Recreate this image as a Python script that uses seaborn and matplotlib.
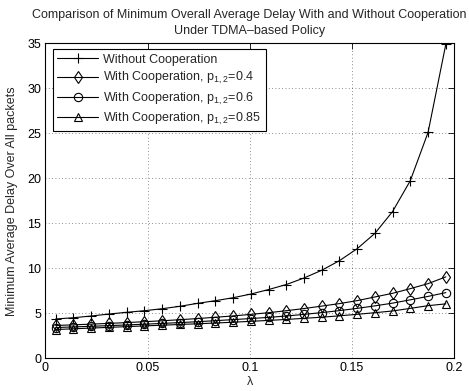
import numpy as np
import pandas as pd
import matplotlib
matplotlib.use("Agg")
import matplotlib.pyplot as plt
import seaborn as sns

# ── Data ─────────────────────────────────────────────────────
lam = [0.005, 0.0137, 0.0224, 0.031, 0.0397, 0.0484, 0.0571, 0.0658, 0.0745,
       0.0831, 0.0918, 0.1005, 0.1092, 0.1179, 0.1265, 0.1352, 0.1439, 0.1526,
       0.1613, 0.1699, 0.1786, 0.1873, 0.196]

without_coop = [4.37, 4.51, 4.70, 4.92, 5.11, 5.29, 5.51, 5.78, 6.11, 6.40, 6.73,
                7.14, 7.64, 8.20, 8.92, 9.78, 10.85, 12.18, 13.89, 16.3, 19.74,
                25.1, 34.9]
coop_p04 = [3.65, 3.72, 3.80, 3.88, 3.97, 4.07, 4.17, 4.29, 4.42, 4.56, 4.71,
            4.88, 5.07, 5.29, 5.53, 5.80, 6.08, 6.41, 6.82, 7.22, 7.74, 8.30, 9.05]
coop_p06 = [3.42, 3.49, 3.56, 3.63, 3.71, 3.79, 3.88, 3.97, 4.07, 4.18, 4.30,
            4.42, 4.55, 4.70, 4.88, 5.08, 5.30, 5.55, 5.83, 6.13, 6.50, 6.88, 7.30]
coop_p085 = [3.20, 3.28, 3.36, 3.44, 3.52, 3.60, 3.68, 3.76, 3.84, 3.92, 4.01,
             4.11, 4.21, 4.32, 4.44, 4.57, 4.72, 4.89, 5.07, 5.26, 5.55, 5.85, 6.05]

series_labels = ["Without Cooperation",
                 r"With Cooperation, p$_{1,2}$=0.4",
                 r"With Cooperation, p$_{1,2}$=0.6",
                 r"With Cooperation, p$_{1,2}$=0.85"]
series_markers = ["+", "d", "o", "^"]

# ── Style ────────────────────────────────────────────────────
sns.set_style("white")
plt.rcParams["font.family"] = ["Liberation Sans", "DejaVu Sans"]
plt.rcParams["mathtext.default"] = "regular"
plt.rcParams["font.size"] = 9

fig = plt.figure(figsize=(4.69, 3.91), dpi=100)
ax = fig.add_axes([0.097, 0.0836, 0.871, 0.8055])

for vals, lab, mk in zip([without_coop, coop_p04, coop_p06, coop_p085],
                         series_labels, series_markers):
    df = pd.DataFrame({"lam": lam, "delay": vals})
    sns.lineplot(data=df, x="lam", y="delay", ax=ax, color="black",
                 linewidth=0.8, marker=mk, markersize=6 if mk != "+" else 7,
                 markerfacecolor="none", markeredgecolor="black",
                 markeredgewidth=0.8, label=lab)

ax.set_xlim(0, 0.2)
ax.set_ylim(0, 35)
ax.set_xticks([0, 0.05, 0.1, 0.15, 0.2])
ax.set_xticklabels(["0", "0.05", "0.1", "0.15", "0.2"])
ax.set_yticks(range(0, 36, 5))
ax.tick_params(direction="in", top=True, right=True, length=4, width=0.6,
               labelsize=9, pad=3, colors="black")
ax.grid(True, linestyle=(0, (1, 3)), color="black", linewidth=0.6, alpha=0.6)
for sp in ax.spines.values():
    sp.set_color("black")
    sp.set_linewidth(0.8)

ax.set_xlabel("λ", fontsize=9, labelpad=1)
ax.set_ylabel("Minimum Average Delay Over All packets", fontsize=9, labelpad=7)
ax.set_title("Comparison of Minimum Overall Average Delay With and Without Cooperation\n"
             "Under TDMA\u2013based Policy", fontsize=9, pad=7, linespacing=1.45)

leg = ax.legend(loc="upper left", bbox_to_anchor=(0.0176, 0.981),
                borderaxespad=0, fancybox=False, framealpha=1,
                edgecolor="black", fontsize=9, handlelength=3.3,
                handletextpad=0.4, labelspacing=0.35, borderpad=0.35)
leg.get_frame().set_linewidth(0.8)

fig.savefig("out.png", dpi=100)
